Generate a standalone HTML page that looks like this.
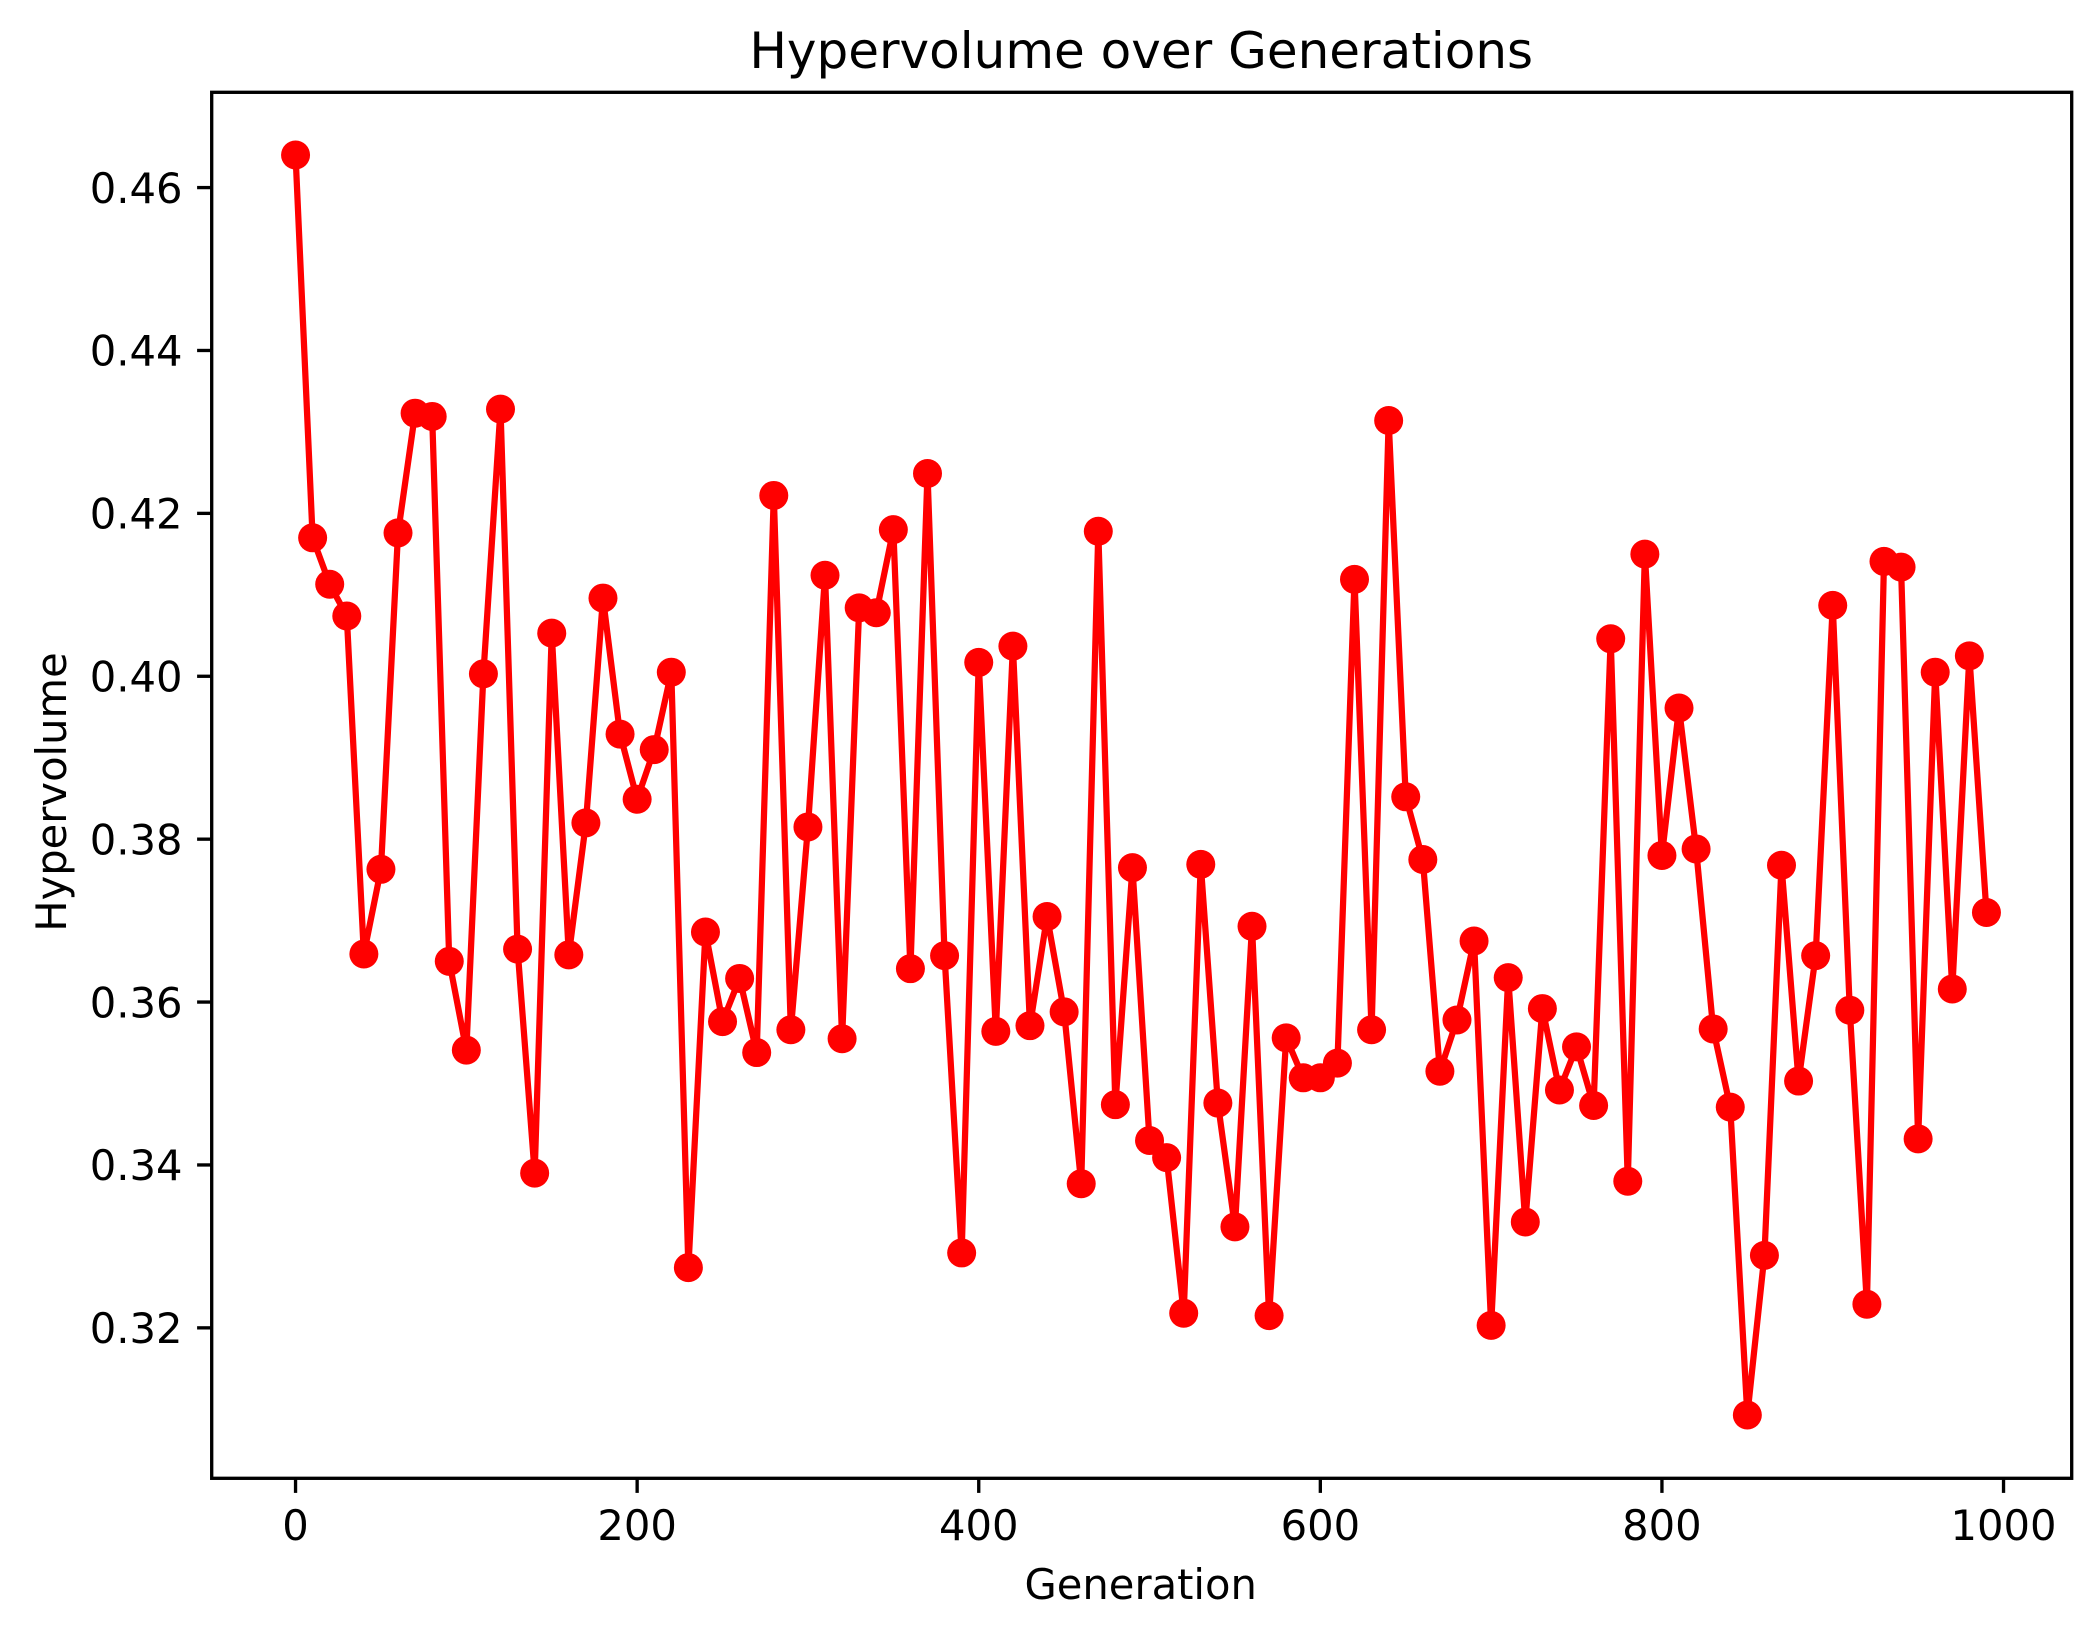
<!DOCTYPE html>
<html lang="en">
<head>
<meta charset="utf-8">
<title>Hypervolume over Generations</title>
<style>
  html, body { margin: 0; padding: 0; background: #fff; }
  body { width: 2100px; height: 1638px; overflow: hidden; }
  svg { display: block; }
  text { font-family: "DejaVu Sans", "Liberation Sans", sans-serif; fill: #000; }
</style>
</head>
<body>
<svg id="chart" xmlns="http://www.w3.org/2000/svg" width="2100" height="1638" viewBox="0 0 2100 1638">
  <rect x="0" y="0" width="2100" height="1638" fill="#ffffff"/>
  <text x="1141.2" y="68" font-size="50" text-anchor="middle">Hypervolume over Generations</text>
  <text x="1140.7" y="1599" font-size="41.67" text-anchor="middle">Generation</text>
  <text transform="translate(66 792) rotate(-90)" font-size="41.67" text-anchor="middle">Hypervolume</text>
  <g id="ticks"></g>
  <g id="series"></g>
  <rect x="211.7" y="92.3" width="1860" height="1386" fill="none" stroke="#000" stroke-width="3.33"/>
</svg>
<script>
const generations = [0,10,20,30,40,50,60,70,80,90,100,110,120,130,140,150,160,170,180,190,200,210,220,230,240,250,260,270,280,290,300,310,320,330,340,350,360,370,380,390,400,410,420,430,440,450,460,470,480,490,500,510,520,530,540,550,560,570,580,590,600,610,620,630,640,650,660,670,680,690,700,710,720,730,740,750,760,770,780,790,800,810,820,830,840,850,860,870,880,890,900,910,920,930,940,950,960,970,980,990];
const hypervolume = [0.4640,0.4170,0.4113,0.4074,0.3659,0.3763,0.4176,0.4323,0.4319,0.3650,0.3541,0.4003,0.4328,0.3665,0.3390,0.4053,0.3658,0.3820,0.4096,0.3929,0.3849,0.3910,0.4005,0.3274,0.3686,0.3576,0.3629,0.3538,0.4222,0.3566,0.3815,0.4124,0.3555,0.4084,0.4078,0.4180,0.3641,0.4249,0.3657,0.3292,0.4017,0.3564,0.4037,0.3571,0.3705,0.3588,0.3377,0.4178,0.3474,0.3765,0.3430,0.3409,0.3218,0.3769,0.3476,0.3324,0.3693,0.3215,0.3556,0.3507,0.3507,0.3525,0.4119,0.3566,0.4314,0.3852,0.3775,0.3515,0.3578,0.3675,0.3203,0.3630,0.3330,0.3592,0.3492,0.3545,0.3473,0.4046,0.3380,0.4150,0.3780,0.3961,0.3788,0.3567,0.3471,0.3093,0.3289,0.3768,0.3503,0.3657,0.4087,0.3590,0.3229,0.4141,0.4134,0.3432,0.4005,0.3616,0.4025,0.3710];
const xTickValues = [0,200,400,600,800,1000];
const xTickLabels = ["0","200","400","600","800","1000"];
const yTickValues = [0.32,0.34,0.36,0.38,0.40,0.42,0.44,0.46];
const yTickLabels = ["0.32","0.34","0.36","0.38","0.40","0.42","0.44","0.46"];

const SVG_NS = "http://www.w3.org/2000/svg";
const plotLeft = 211.0, plotRight = 2071.0, plotTop = 92.0, plotBottom = 1478.0;
const tickLength = 14.6;

// Axis limits follow matplotlib's 5% margin around the data.
const xMin = Math.min(...generations), xMax = Math.max(...generations);
const yMin = Math.min(...hypervolume), yMax = Math.max(...hypervolume);
const xPad = (xMax - xMin) * 0.05, yPad = (yMax - yMin) * 0.05;

function xScale(v) {
  return plotLeft + (v - (xMin - xPad)) / ((xMax + xPad) - (xMin - xPad)) * (plotRight - plotLeft);
}
function yScale(v) {
  return plotBottom - (v - (yMin - yPad)) / ((yMax + yPad) - (yMin - yPad)) * (plotBottom - plotTop);
}

const ticksGroup = document.getElementById("ticks");
const seriesGroup = document.getElementById("series");

xTickValues.forEach(function (value, i) {
  const x = xScale(value);
  const mark = document.createElementNS(SVG_NS, "line");
  
  
  mark.setAttribute("x1", x);
  mark.setAttribute("x2", x);
  mark.setAttribute("y1", 1478.3);
  mark.setAttribute("y2", 1478.3 + tickLength);
  mark.setAttribute("stroke", "#000");
  mark.setAttribute("stroke-width", "3.33");
  ticksGroup.appendChild(mark);
  const label = document.createElementNS(SVG_NS, "text");
  
  
  label.setAttribute("x", x);
  label.setAttribute("y", 1540);
  label.setAttribute("font-size", "41.67");
  label.setAttribute("text-anchor", "middle");
  label.textContent = xTickLabels[i];
  ticksGroup.appendChild(label);
});

yTickValues.forEach(function (value, i) {
  const y = yScale(value);
  const mark = document.createElementNS(SVG_NS, "line");
  
  
  mark.setAttribute("x1", 211.7 - tickLength);
  mark.setAttribute("x2", 211.7);
  mark.setAttribute("y1", y);
  mark.setAttribute("y2", y);
  mark.setAttribute("stroke", "#000");
  mark.setAttribute("stroke-width", "3.33");
  ticksGroup.appendChild(mark);
  const label = document.createElementNS(SVG_NS, "text");
  
  
  label.setAttribute("x", 182.5);
  label.setAttribute("y", y + 15.2);
  label.setAttribute("font-size", "41.67");
  label.setAttribute("text-anchor", "end");
  label.textContent = yTickLabels[i];
  ticksGroup.appendChild(label);
});

const linePath = document.createElementNS(SVG_NS, "polyline");


linePath.setAttribute("points", generations.map(function (g, i) {
  return xScale(g).toFixed(2) + "," + yScale(hypervolume[i]).toFixed(2);
}).join(" "));
linePath.setAttribute("fill", "none");
linePath.setAttribute("stroke", "#ff0000");
linePath.setAttribute("stroke-width", "6.25");
linePath.setAttribute("stroke-linejoin", "round");
linePath.setAttribute("stroke-linecap", "square");
seriesGroup.appendChild(linePath);

generations.forEach(function (g, i) {
  const point = document.createElementNS(SVG_NS, "circle");
  
  
  point.setAttribute("cx", xScale(g).toFixed(2));
  point.setAttribute("cy", yScale(hypervolume[i]).toFixed(2));
  point.setAttribute("r", "14.5");
  point.setAttribute("fill", "#ff0000");
  seriesGroup.appendChild(point);
});
</script>
</body>
</html>
